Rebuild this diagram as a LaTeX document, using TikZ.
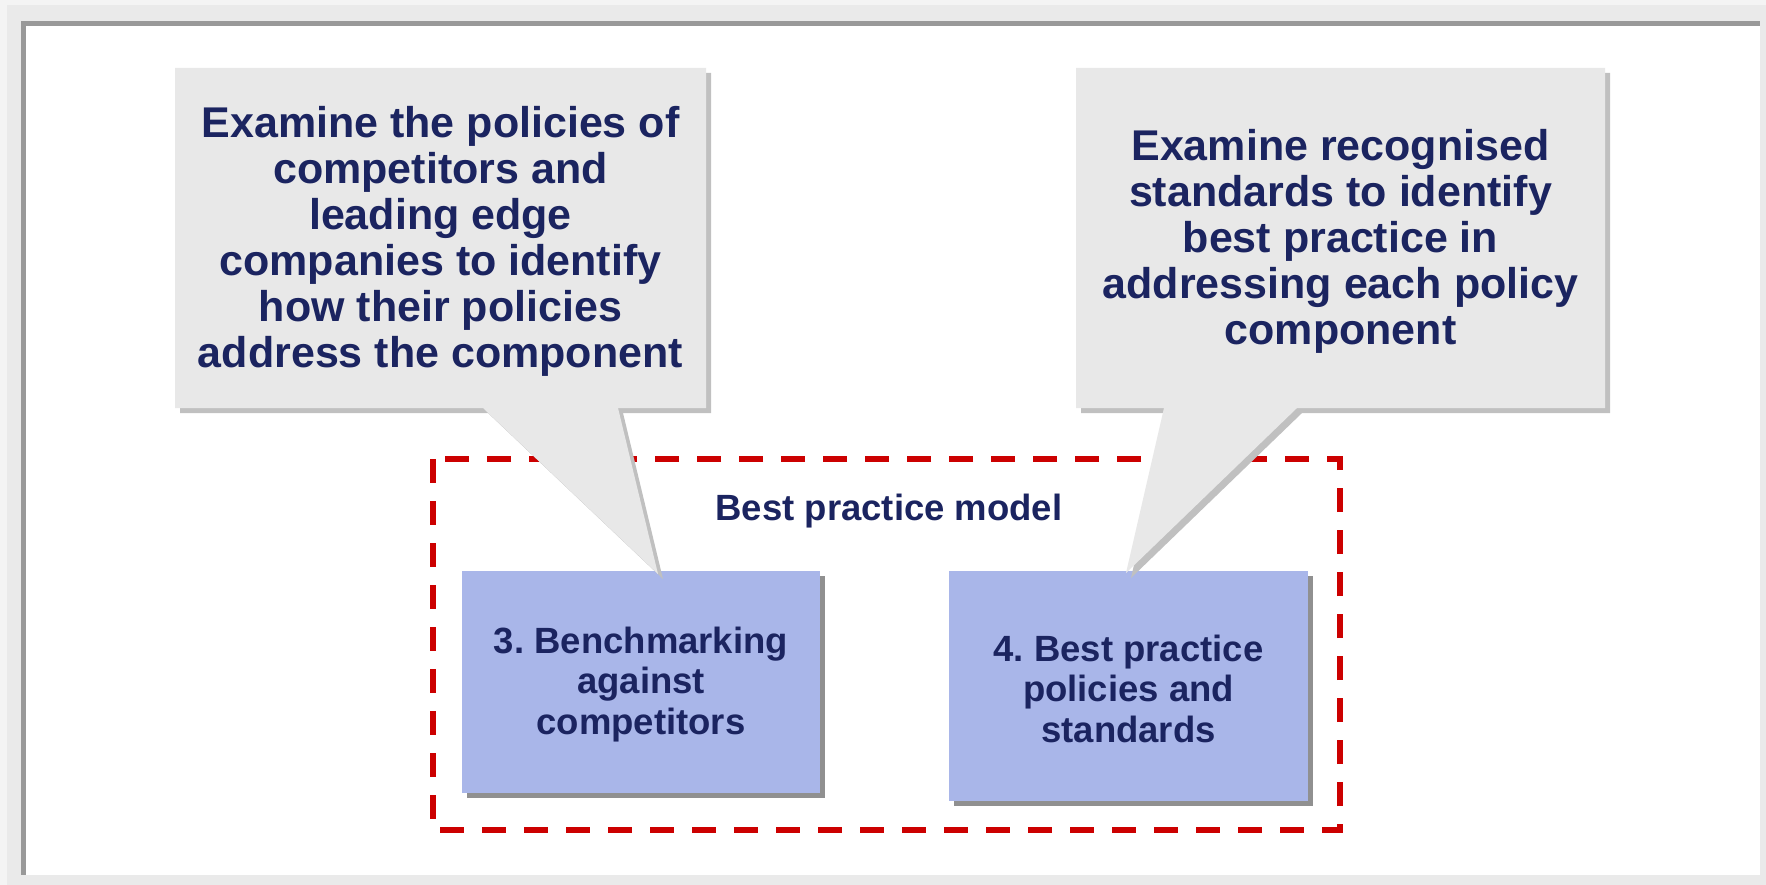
\documentclass[tikz,border=0pt]{standalone}
\usepackage{fontspec}
\setmainfont{Liberation Sans}
\usetikzlibrary{shadows}
\frenchspacing
\definecolor{navy}{RGB}{27,36,96}
\definecolor{callfill}{RGB}{232,232,232}
\definecolor{callshadow}{RGB}{192,192,192}
\definecolor{boxblue}{RGB}{169,182,233}
\definecolor{boxshadow}{RGB}{144,144,144}
\definecolor{dashred}{RGB}{204,0,0}
\definecolor{framegray}{RGB}{153,153,153}
\definecolor{outergray}{RGB}{234,234,234}
\definecolor{outerlight}{RGB}{244,244,244}
\begin{document}
\begin{tikzpicture}[x=1pt,y=-1pt,
  calltext/.style={font=\fontsize{43}{46}\selectfont\bfseries, text=navy, align=center, inner sep=0pt},
  callout/.style={fill=callfill, preaction={fill=callshadow, transform canvas={xshift=5pt,yshift=-5pt}}},
  stepbox/.style={fill=boxblue, font=\fontsize{36.5}{40.5}\selectfont\bfseries, text=navy, align=center, inner sep=0pt,
    general shadow={fill=boxshadow, shadow xshift=5pt, shadow yshift=-5pt}},
  titletext/.style={font=\fontsize{36.5}{40}\selectfont\bfseries, text=navy, inner sep=0pt},
  dashbox/.style={draw=dashred, line width=6pt, dash pattern=on 24pt off 18pt}]
\useasboundingbox (0,0) rectangle (1766,885);
% frame
\fill[outerlight] (0,0) rectangle (1766,885);
\fill[outergray] (7,5) rectangle (1766,885);
\fill[framegray] (21,21) rectangle (1760,875);
\fill[white] (26,26) rectangle (1760,875);
% dashed model box
\coordinate (dnw) at (433,459);
\coordinate (dse) at (1340,830);
\draw[dashbox] (dnw) rectangle (dse);
\node[titletext] (bpm) at (889,511) {Best practice model};
% step boxes
\node[stepbox, minimum width=358pt, minimum height=222pt] (b3) at (641,682) {};
\node[text=navy, font=\fontsize{36.5}{40.5}\selectfont\bfseries, align=center, inner sep=0pt] (b3t) at (641,684.5) {3. Benchmarking\\against\\competitors};
\node[stepbox, minimum width=359pt, minimum height=230pt] (b4) at (1128.5,686) {};
\node[text=navy, font=\fontsize{36.5}{40.5}\selectfont\bfseries, align=center, inner sep=0pt] (b4t) at (1128.5,688.5) {4. Best practice\\policies and\\standards};
% callouts
\path[callout] (175,68) -- (706,68) -- (706,408) -- (618,408) -- (658,574) -- (483,408) -- (175,408) -- cycle;
\path[callout] (1076,68) -- (1605,68) -- (1605,408) -- (1297,408) -- (1126,573) -- (1164,408) -- (1076,408) -- cycle;
\node[calltext] (t1) at (440.5,241) {Examine the policies of\\competitors and\\leading edge\\companies to identify\\how their policies\\address the component};
\node[calltext] (t2) at (1340.5,241) {Examine recognised\\standards to identify\\best practice in\\addressing each policy\\component};
\end{tikzpicture}
\end{document}
